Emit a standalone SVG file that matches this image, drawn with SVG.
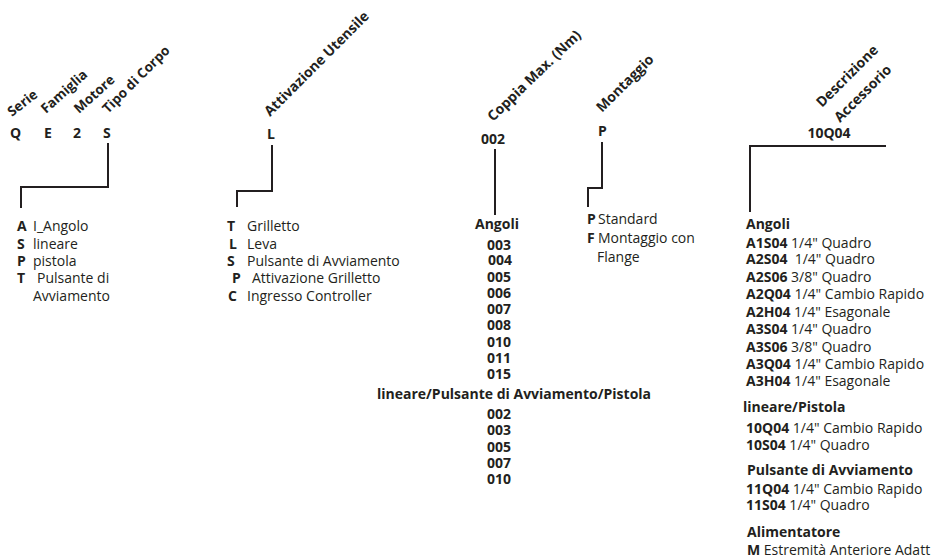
<svg xmlns="http://www.w3.org/2000/svg" width="933" height="558" viewBox="0 0 933 558">
  <style>
    text { font-family: "Open Sans", "Noto Sans", "Liberation Sans", sans-serif; font-size: 14px; fill: #231f20; }
    .b { font-weight: bold; }
    .hd { font-weight: bold; font-size: 14px; }
    .hs { font-weight: bold; font-size: 13.5px; }
    .ln { stroke: #231f20; stroke-width: 2; fill: none; }
    .mid { text-anchor: middle; }
  </style>
  <rect width="933" height="558" fill="#ffffff"/>

  <!-- connectors -->
  <g id="connectors">
    <polyline class="ln" points="108,143 108,187 21,187 21,208"/>
    <polyline class="ln" points="272,145 272,191 237,191 237,207"/>
    <line class="ln" x1="495" y1="149" x2="495" y2="215"/>
    <polyline class="ln" points="602,142 602,188 588,188 588,207"/>
    <polyline class="ln" points="886,146 750,146 750,212"/>
  </g>

  <!-- serie / famiglia / motore / tipo di corpo -->
  <g id="tipo-corpo">
    <text class="hs" transform="translate(12,117) rotate(-38)">Serie</text>
    <text class="hs" transform="translate(46,114) rotate(-42)">Famiglia</text>
    <text class="hs" transform="translate(79,114) rotate(-42)">Motore</text>
    <text class="hs" transform="translate(108,114) rotate(-45)">Tipo di Corpo</text>
    <text class="b" x="10" y="138">Q</text>
    <text class="b" x="44" y="138">E</text>
    <text class="b" x="73" y="138">2</text>
    <text class="b" x="103" y="138">S</text>
    <text x="17" y="231"><tspan class="b">A</tspan><tspan x="33">I_Angolo</tspan></text>
    <text x="17" y="248.5"><tspan class="b">S</tspan><tspan x="33">lineare</tspan></text>
    <text x="17" y="266"><tspan class="b">P</tspan><tspan x="33">pistola</tspan></text>
    <text x="17" y="283"><tspan class="b">T</tspan><tspan x="37">Pulsante di</tspan></text>
    <text x="33" y="301">Avviamento</text>
  </g>

  <!-- attivazione utensile -->
  <g id="attivazione">
    <text class="hd" transform="translate(270,117) rotate(-45)">Attivazione Utensile</text>
    <text class="b" x="267" y="139">L</text>
    <text x="227" y="231"><tspan class="b">T</tspan><tspan x="247">Grilletto</tspan></text>
    <text x="229" y="248.5"><tspan class="b">L</tspan><tspan x="247">Leva</tspan></text>
    <text x="227" y="266"><tspan class="b">S</tspan><tspan x="247">Pulsante di Avviamento</tspan></text>
    <text x="232" y="283"><tspan class="b">P</tspan><tspan x="252">Attivazione Grilletto</tspan></text>
    <text x="228" y="301"><tspan class="b">C</tspan><tspan x="247">Ingresso Controller</tspan></text>
  </g>

  <!-- coppia massima -->
  <g id="coppia">
    <text class="hd" transform="translate(493,122) rotate(-44)">Coppia Max. (Nm)</text>
    <text class="b mid" x="493" y="144">002</text>
    <text class="b mid" x="497" y="229">Angoli</text>
    <text class="b mid" x="499" y="250">003</text>
    <text class="b mid" x="500" y="265">004</text>
    <text class="b mid" x="499" y="282">005</text>
    <text class="b mid" x="499" y="298">006</text>
    <text class="b mid" x="499" y="314">007</text>
    <text class="b mid" x="499" y="330">008</text>
    <text class="b mid" x="499" y="347">010</text>
    <text class="b mid" x="499" y="363">011</text>
    <text class="b mid" x="499" y="379">015</text>
    <text class="b mid" x="514" y="399">lineare/Pulsante di Avviamento/Pistola</text>
    <text class="b mid" x="499" y="419">002</text>
    <text class="b mid" x="499" y="435">003</text>
    <text class="b mid" x="499" y="452">005</text>
    <text class="b mid" x="499" y="468">007</text>
    <text class="b mid" x="499" y="484">010</text>
  </g>

  <!-- montaggio -->
  <g id="montaggio">
    <text class="hd" transform="translate(602,113) rotate(-45)">Montaggio</text>
    <text class="b" x="598" y="136">P</text>
    <text x="587" y="224"><tspan class="b">P</tspan><tspan x="598">Standard</tspan></text>
    <text x="587" y="243"><tspan class="b">F</tspan><tspan x="598">Montaggio con</tspan></text>
    <text x="597" y="262">Flange</text>
  </g>

  <!-- descrizione accessorio -->
  <g id="accessorio">
    <text class="hd" transform="translate(822,108) rotate(-45)">Descrizione</text>
    <text class="hd" transform="translate(840,123) rotate(-45)">Accessorio</text>
    <text class="b mid" x="829" y="138">10Q04</text>
    <text class="b" x="746" y="229">Angoli</text>
    <text x="746" y="248"><tspan class="b">A1S04</tspan> 1/4" Quadro</text>
    <text x="746" y="264" xml:space="preserve"><tspan class="b">A2S04</tspan>  1/4" Quadro</text>
    <text x="746" y="282"><tspan class="b">A2S06</tspan> 3/8" Quadro</text>
    <text x="746" y="299"><tspan class="b">A2Q04</tspan> 1/4" Cambio Rapido</text>
    <text x="746" y="317"><tspan class="b">A2H04</tspan> 1/4" Esagonale</text>
    <text x="746" y="334"><tspan class="b">A3S04</tspan> 1/4" Quadro</text>
    <text x="746" y="352"><tspan class="b">A3S06</tspan> 3/8" Quadro</text>
    <text x="746" y="369"><tspan class="b">A3Q04</tspan> 1/4" Cambio Rapido</text>
    <text x="746" y="386"><tspan class="b">A3H04</tspan> 1/4" Esagonale</text>
    <text class="b" x="743" y="412">lineare/Pistola</text>
    <text x="746" y="433"><tspan class="b">10Q04</tspan> 1/4" Cambio Rapido</text>
    <text x="746" y="450"><tspan class="b">10S04</tspan> 1/4" Quadro</text>
    <text class="b" x="747" y="474.5">Pulsante di Avviamento</text>
    <text x="746" y="493.5"><tspan class="b">11Q04</tspan> 1/4" Cambio Rapido</text>
    <text x="746" y="510"><tspan class="b">11S04</tspan> 1/4" Quadro</text>
    <text class="b" x="747" y="536.5">Alimentatore</text>
    <text x="747" y="554.5"><tspan class="b">M</tspan> Estremità Anteriore Adatt</text>
  </g>
</svg>
